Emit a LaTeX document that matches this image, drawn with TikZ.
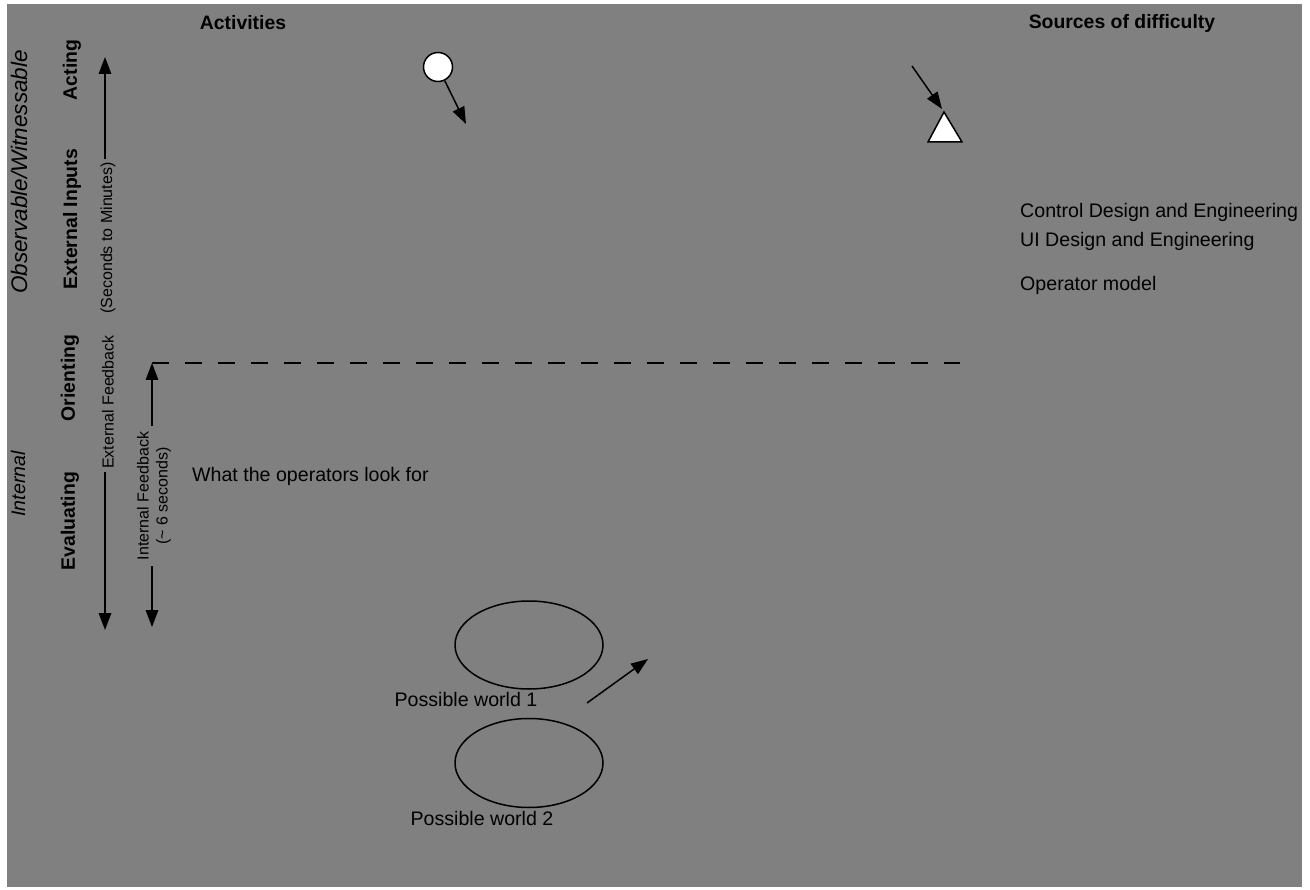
\documentclass[tikz,border=0pt]{standalone}
\usepackage{fontspec}
\setmainfont{Liberation Sans}
\usetikzlibrary{arrows.meta,shapes.geometric}
\definecolor{bggray}{RGB}{128,128,128}
\begin{document}
\begin{tikzpicture}[x=1pt,y=-1pt,
  txt/.style={inner sep=2pt,font=\fontsize{19.6}{23}\selectfont},
  boldtxt/.style={txt,font=\fontsize{19.4}{23}\selectfont\bfseries},
  ittxt/.style={txt,font=\fontsize{19.6}{23}\selectfont\itshape},
  smalltxt/.style={inner sep=3pt,font=\fontsize{16}{19}\selectfont},
  arr/.style={line width=1.5pt,-{Triangle[length=17pt,width=12.5pt]}},
  plain/.style={line width=1.5pt}]
\useasboundingbox (0,0) rectangle (1310,890);
\fill[white] (0,0) rectangle (1310,890);
\fill[bggray] (7,4) rectangle (1302,887);

% headings
\node[boldtxt] (act) at (243,23) {Activities};
\node[boldtxt] (src) at (1122,23) {Sources of difficulty};

% left column labels
\node[ittxt,rotate=90,font=\fontsize{22.5}{26}\selectfont\itshape] (obs) at (19,172) {Observable/Witnessable};
\node[ittxt,rotate=90] (int) at (18,484) {Internal};
\node[boldtxt,rotate=90] (acting) at (72,70) {Acting};
\node[boldtxt,rotate=90] (extin) at (72,219) {External Inputs};
\node[boldtxt,rotate=90] (orient) at (70,378) {Orienting};
\node[boldtxt,rotate=90] (evalu) at (70,521) {Evaluating};

% time-scale arrow A
\coordinate (atop) at (105,57);
\coordinate (abot) at (105,630);
\node[smalltxt,rotate=90] (secm) at (108,238) {(Seconds to Minutes)};
\node[smalltxt,rotate=90] (extfb) at (108,402) {External Feedback};
\draw[arr] (secm.east -| atop) -- (atop);
\draw[arr] (extfb.west -| abot) -- (abot);

% time-scale arrow B
\coordinate (btop) at (152,363);
\coordinate (bbot) at (152,627);
\coordinate (dend) at (960,363);
\node[smalltxt,rotate=90,align=center,inner sep=6pt] (intfb) at (154,496) {Internal Feedback\\(\textasciitilde{} 6 seconds)};
\draw[arr] (intfb.east -| btop) -- (btop);
\draw[arr] (intfb.west -| bbot) -- (bbot);
\draw[plain,dash pattern=on 17pt off 16pt] (btop) -- (dend);

% text
\node[txt,anchor=west] (look) at (190,476) {What the operators look for};
\node[txt,anchor=west] (cde) at (1018,212) {Control Design and Engineering};
\node[txt,anchor=west] (uide) at (1018,241) {UI Design and Engineering};
\node[txt,anchor=west] (opm) at (1018,285) {Operator model};

% circle
\node[circle,draw,plain,fill=white,minimum size=29pt,inner sep=0pt] (circ) at (438,67) {};
\coordinate (carr) at (466,124);
\draw[arr] (circ) -- (carr);

% triangle
\coordinate (tritop) at (944,112);
\coordinate (trileft) at (928,142);
\coordinate (triright) at (962,142);
\draw[plain,fill=white,line join=miter] (tritop) -- (trileft) -- (triright) -- cycle;
\coordinate (tarr) at (912,66);
\draw[arr] (tarr) -- (942,109);

% possible worlds
\node[ellipse,draw,plain,minimum width=148pt,minimum height=88pt,inner sep=0pt] (w1) at (529,645) {};
\node[txt] (w1lab) at (466,699) {Possible world 1};
\node[ellipse,draw,plain,minimum width=148pt,minimum height=89pt,inner sep=0pt] (w2) at (529,763) {};
\node[txt] (w2lab) at (482,818) {Possible world 2};
\coordinate (parrs) at (587,703);
\coordinate (parre) at (648,659);
\draw[arr] (parrs) -- (parre);
\end{tikzpicture}
\end{document}
